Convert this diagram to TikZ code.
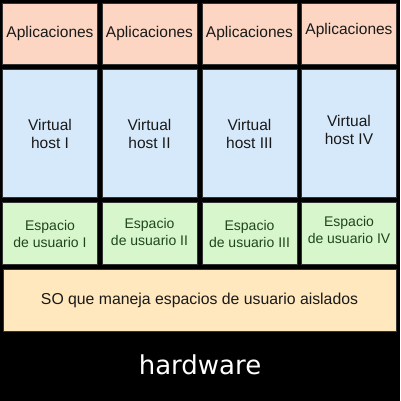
\documentclass[tikz,border=0pt]{standalone}
\usepackage{fontspec}
\setmainfont{Liberation Sans}
\newfontfamily\hwfont{DejaVu Sans}
\definecolor{appfill}{RGB}{252,214,194}
\definecolor{vhfill}{RGB}{214,233,250}
\definecolor{eufill}{RGB}{216,246,204}
\definecolor{sofill}{RGB}{255,232,190}
\definecolor{eutext}{RGB}{30,70,30}
\definecolor{dtext}{RGB}{25,25,25}
\tikzset{
  layerbox/.style={draw=black!80, line width=0.4pt, inner sep=0pt},
  appbox/.style={layerbox, fill=appfill, minimum width=95pt, minimum height=61pt},
  vhbox/.style={layerbox, fill=vhfill, minimum width=95pt, minimum height=128pt},
  eubox/.style={layerbox, fill=eufill, minimum width=95pt, minimum height=62pt},
  sobox/.style={layerbox, fill=sofill, minimum width=393pt, minimum height=62pt},
  lbl/.style={inner sep=0pt, align=center, text=dtext, font=\fontsize{15.5}{18.5}\selectfont},
  eulbl/.style={lbl, text=eutext, font=\fontsize{14}{17.5}\selectfont},
  hwtext/.style={text=white, font=\hwfont\fontsize{26}{30}\selectfont, inner sep=0pt}
}
\begin{document}
\begin{tikzpicture}[x=1pt,y=-1pt]
\fill[black] (0,0) rectangle (400,401);
\useasboundingbox (0,0) rectangle (400,401);
\node[appbox] (a1) at (50,33.5) {};
\node[appbox] (a2) at (149.5,33.5) {};
\node[appbox] (a3) at (249.5,33.5) {};
\node[appbox] (a4) at (349,33.5) {};
\node[vhbox] (v1) at (50,133) {};
\node[vhbox] (v2) at (149.5,133) {};
\node[vhbox] (v3) at (249.5,133) {};
\node[vhbox] (v4) at (349,133) {};
\node[eubox] (e1) at (50,233) {};
\node[eubox] (e2) at (149.5,233) {};
\node[eubox] (e3) at (249.5,233) {};
\node[eubox] (e4) at (349,233) {};
\node[sobox] (so) at (199.5,300) {};
\node[lbl] (ta1) at (a1.center) {Aplicaciones};
\node[lbl] (ta2) at (a2.center) {Aplicaciones};
\node[lbl] (ta3) at (a3.center) {Aplicaciones};
\node[lbl] (ta4) at ([yshift=3pt]a4.center) {Aplicaciones};
\node[lbl] (tv1) at ([yshift=-1pt]v1.center) {Virtual\\host I};
\node[lbl] (tv2) at ([yshift=-1pt]v2.center) {Virtual\\host II};
\node[lbl] (tv3) at ([yshift=-1pt]v3.center) {Virtual\\host III};
\node[lbl] (tv4) at ([yshift=3pt]v4.center) {Virtual\\host IV};
\node[eulbl] (te1) at ([yshift=-1pt]e1.center) {Espacio\\de usuario I};
\node[eulbl] (te2) at ([yshift=1pt]e2.center) {Espacio\\de usuario II};
\node[eulbl] (te3) at ([yshift=-1pt]e3.center) {Espacio\\de usuario III};
\node[eulbl] (te4) at ([yshift=3pt]e4.center) {Espacio\\de usuario IV};
\node[lbl, font=\fontsize{15.8}{18}\selectfont] (tso) at (so.center) {SO que maneja espacios de usuario aislados};
\node[hwtext] (hw) at (200,365) {hardware};
\end{tikzpicture}
\end{document}
